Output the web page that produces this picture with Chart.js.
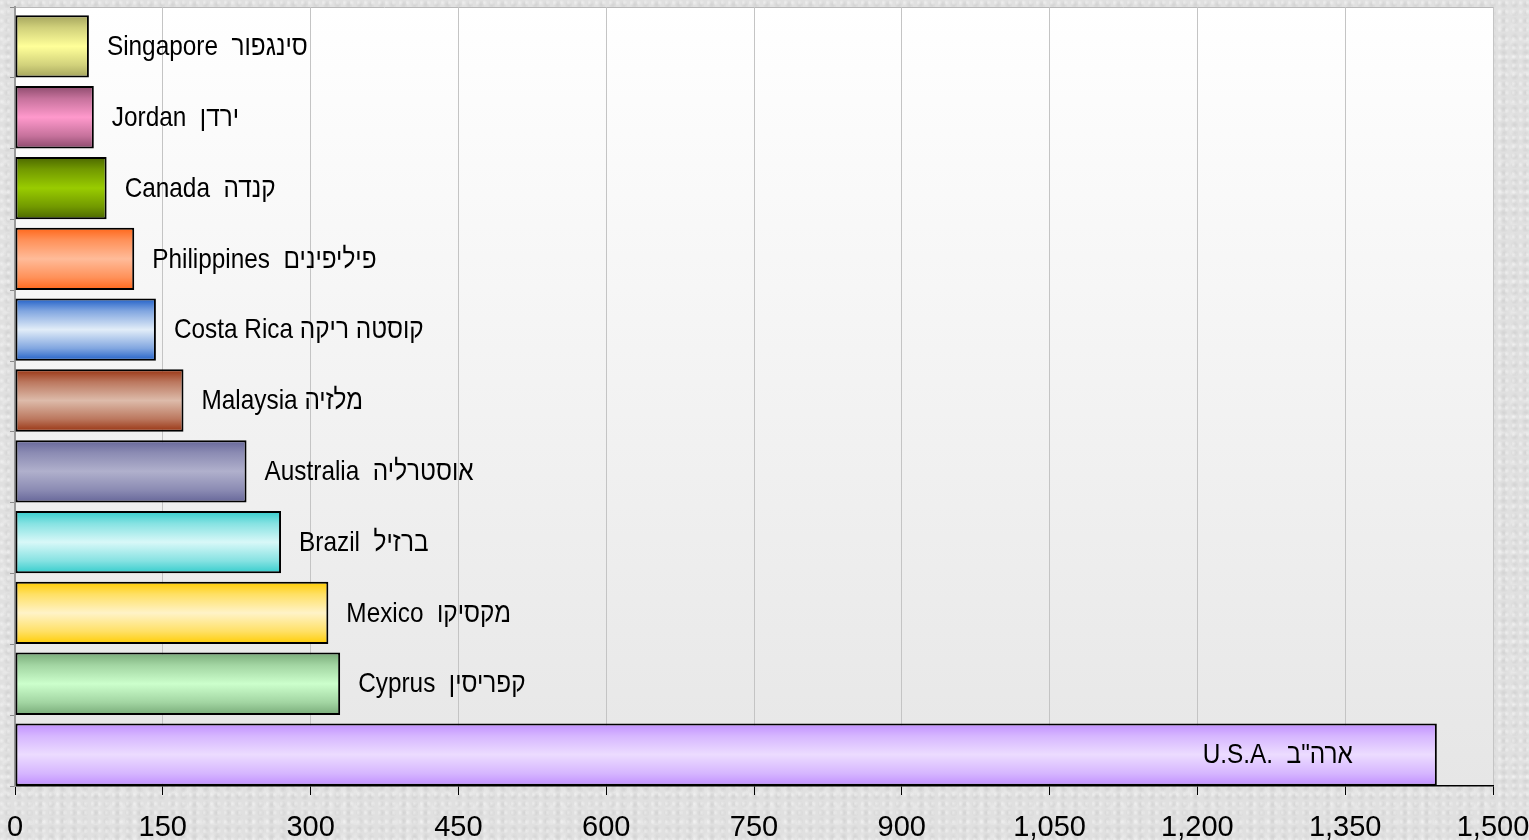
<!DOCTYPE html>
<html>
<head>
<meta charset="utf-8">
<title>Chart</title>
<script src="https://cdn.jsdelivr.net/npm/chart.js@4"></script>
<style>
    html, body { margin: 0; padding: 0; }
    body {
        width: 1529px; height: 840px; overflow: hidden;
        background-color: #e0e0e0;
        background-image:
            radial-gradient(circle at 20% 30%, rgba(255,255,255,0.45) 0, rgba(255,255,255,0) 3px),
            radial-gradient(circle at 70% 60%, rgba(170,170,170,0.25) 0, rgba(170,170,170,0) 4px),
            radial-gradient(circle at 40% 80%, rgba(250,250,250,0.35) 0, rgba(250,250,250,0) 5px);
        background-size: 7px 9px, 11px 8px, 13px 15px;
    }
    canvas { display: block; }
</style>
</head>
<body>
<canvas id="chart" width="1529" height="840"></canvas>
<script>
// Datos del gráfico (de arriba hacia abajo)
const categories = [
    'Singapore  סינגפור',
    'Jordan  ירדן',
    'Canada  קנדה',
    'Philippines  פיליפינים',
    'Costa Rica קוסטה ריקה',
    'Malaysia מלזיה',
    'Australia  אוסטרליה',
    'Brazil  ברזיל',
    'Mexico  מקסיקו',
    'Cyprus  קפריסין',
    'U.S.A.  ארה"ב'
];
const values = [75, 80, 93, 121, 143, 171, 235, 270, 318, 330, 1443];
const xMin = 0;
const xMax = 1500;
const xStep = 150;

// Colores de cada barra: [borde oscuro, centro claro]
const barColors = [
    ['#a3a35c', '#ffff99'],
    ['#8c4a6c', '#ff99cc'],
    ['#4a6600', '#99cc00'],
    ['#ff6619', '#ffbb99'],
    ['#1f5fc8', '#e2edf8'],
    ['#993311', '#ddbbaa'],
    ['#666699', '#b0b0cc'],
    ['#33cccc', '#d8f8f8'],
    ['#ffcc00', '#fff3c8'],
    ['#78aa78', '#ccffcc'],
    ['#c08fff', '#ecdcff']
];

const BAR_PCT = 0.88;
const BAR_SHIFT = 4;        // en el original las barras quedan pegadas al borde inferior de su franja
const LABEL_GAP = 18;
const LABEL_INSIDE = 84;
const TEXT_SQUEEZE = 0.87;  // el texto del original es algo más estrecho que Arial

function mix(a, b, t) {
    const pa = parseInt(a.slice(1), 16), pb = parseInt(b.slice(1), 16);
    const r = Math.round(((pa >> 16) & 255) * (1 - t) + ((pb >> 16) & 255) * t);
    const g = Math.round(((pa >> 8) & 255) * (1 - t) + ((pb >> 8) & 255) * t);
    const bl = Math.round((pa & 255) * (1 - t) + (pb & 255) * t);
    return `rgb(${r},${g},${bl})`;
}

function barFill(context) {
    const chart = context.chart;
    const area = chart.chartArea;
    const pair = barColors[context.dataIndex % barColors.length];
    if (!area || !chart.scales.y) return pair[0];
    const yc = chart.scales.y.getPixelForValue(context.dataIndex);
    const half = (area.height / categories.length) * BAR_PCT / 2;
    const g = chart.ctx.createLinearGradient(0, yc - half, 0, yc + half);
    g.addColorStop(0, pair[0]);
    g.addColorStop(0.2, mix(pair[0], pair[1], 0.5));
    g.addColorStop(0.5, pair[1]);
    g.addColorStop(0.8, mix(pair[0], pair[1], 0.5));
    g.addColorStop(1, pair[0]);
    return g;
}

// Fondo del área del gráfico
const plotBackground = {
    id: 'plotBackground',
    beforeDraw(chart) {
        const { ctx, chartArea: a } = chart;
        ctx.save();
        const g = ctx.createLinearGradient(0, a.top, 0, a.bottom);
        g.addColorStop(0, '#ffffff');
        g.addColorStop(1, '#e6e6e6');
        ctx.fillStyle = g;
        ctx.fillRect(a.left, a.top, a.right - a.left, a.bottom - a.top);
        ctx.strokeStyle = '#b8b8b8';
        ctx.lineWidth = 1;
        ctx.beginPath();
        ctx.moveTo(a.left, a.top + 0.5);
        ctx.lineTo(a.right + 0.5, a.top + 0.5);
        ctx.lineTo(a.right + 0.5, a.bottom);
        ctx.stroke();
        ctx.restore();
    }
};

// Desplazamiento de las barras + etiquetas junto a cada barra
const barLabels = {
    id: 'barLabels',
    beforeDatasetsDraw(chart) {
        chart.ctx.save();
        chart.ctx.translate(0, BAR_SHIFT);
    },
    afterDatasetsDraw(chart) {
        const { ctx, chartArea: a } = chart;
        ctx.restore();
        const meta = chart.getDatasetMeta(0);
        ctx.save();
        ctx.font = '28px "Liberation Sans", Arial, sans-serif';
        ctx.fillStyle = '#000';
        ctx.textBaseline = 'middle';
        ctx.direction = 'ltr';
        meta.data.forEach((bar, i) => {
            const text = categories[i];
            const w = ctx.measureText(text).width * TEXT_SQUEEZE;
            let x = bar.x + LABEL_GAP;
            let align = 'left';
            if (x + w > a.right - 4) {
                align = 'right';
                x = bar.x - LABEL_INSIDE;
            }
            ctx.save();
            ctx.translate(x, bar.y + BAR_SHIFT + 1);
            ctx.scale(TEXT_SQUEEZE, 1);
            ctx.textAlign = align;
            ctx.fillText(text, 0, 0);
            ctx.restore();
        });
        ctx.restore();
    }
};

document.addEventListener('DOMContentLoaded', function () {
    const ctx = document.getElementById('chart').getContext('2d');
    new Chart(ctx, {
        type: 'bar',
        data: {
            labels: categories,
            datasets: [{
                data: values,
                backgroundColor: barFill,
                borderColor: '#000000',
                borderWidth: 2,
                borderSkipped: false,
                barPercentage: BAR_PCT,
                categoryPercentage: 1,
                clip: 8
            }]
        },
        options: {
            indexAxis: 'y',
            responsive: false,
            animation: false,
            devicePixelRatio: 1,
            layout: { padding: { top: 7, left: 0, right: 36, bottom: 0 } },
            plugins: {
                legend: { display: false },
                tooltip: { enabled: false },
                title: { display: false }
            },
            scales: {
                x: {
                    min: xMin,
                    max: xMax,
                    afterFit(scale) {
                        scale.paddingLeft = 0;
                        scale.paddingRight = 0;
                        scale.height = 54;
                    },
                    ticks: {
                        stepSize: xStep,
                        color: '#000',
                        padding: 16,
                        maxRotation: 0,
                        font: { family: '"Liberation Sans Narrow", "Liberation Sans", Arial, sans-serif', size: 29 },
                        callback: v => Number(v).toLocaleString('en-US')
                    },
                    grid: {
                        color: '#c4c4c4',
                        tickColor: '#000',
                        tickLength: 9,
                        lineWidth: 1
                    },
                    border: { color: '#000', width: 1.5 }
                },
                y: {
                    afterFit(scale) {
                        scale.width = 15;
                    },
                    ticks: { display: false },
                    grid: {
                        drawOnChartArea: false,
                        tickLength: 5,
                        tickColor: '#8a8a8a'
                    },
                    border: { color: '#9a9a9a', width: 2 }
                }
            }
        },
        plugins: [plotBackground, barLabels]
    });
});
</script>
</body>
</html>
